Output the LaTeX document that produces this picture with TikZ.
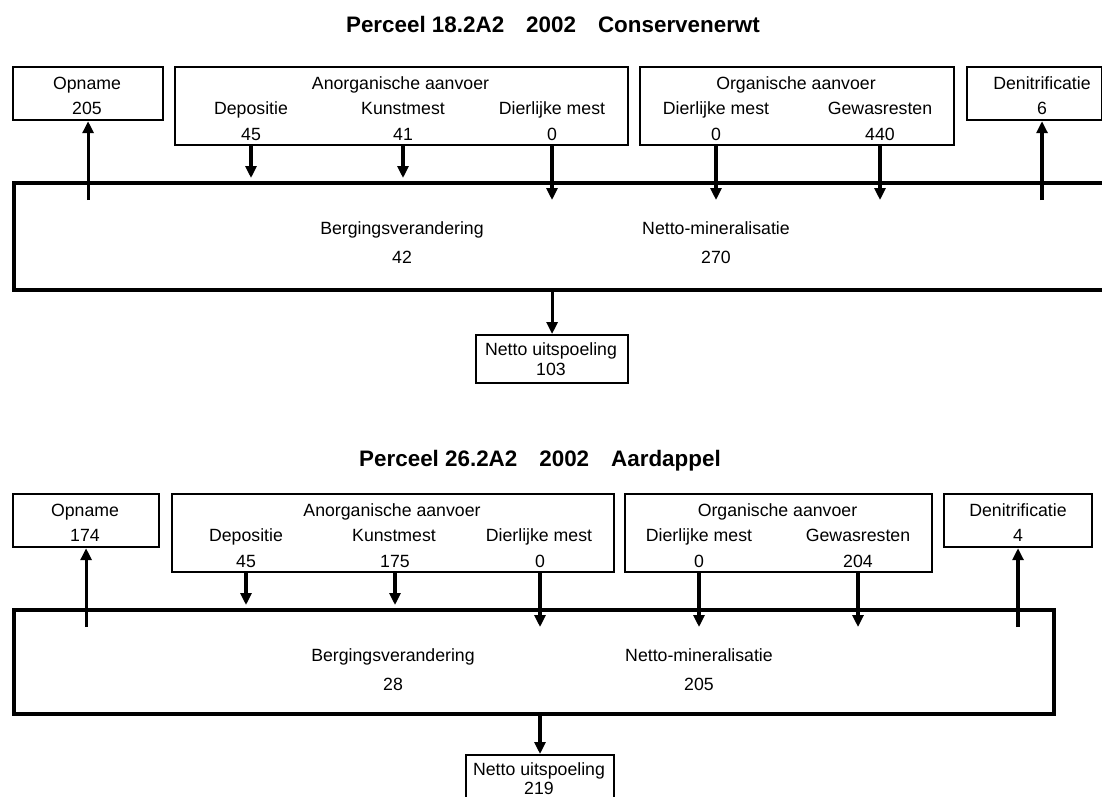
\documentclass[tikz,border=0pt]{standalone}
\usepackage{fontspec}
\setmainfont{Liberation Sans}
\usetikzlibrary{arrows.meta,calc}
\begin{document}
\begin{tikzpicture}[x=1pt,y=-1pt,
  box/.style={draw, line width=2.2pt, inner sep=0pt, anchor=north west},
  mainbox/.style={draw, line width=4pt, inner sep=0pt, anchor=north west},
  lbl/.style={inner sep=0pt, anchor=base, font=\fontsize{17.7}{20}\selectfont},
  ttl/.style={inner sep=0pt, anchor=base, font=\fontsize{22.4}{26}\selectfont\bfseries},
  flow/.style={line width=3.1pt, -{Triangle[width=11pt,length=12pt]}},
]
\useasboundingbox (0,0) rectangle (1102,796);
\clip (0,0) rectangle (1102,796);

% ---------------- top diagram ----------------
\node[ttl] (title1) at (553,32) {Perceel 18.2A2\hspace{22pt}2002\hspace{22pt}Conservenerwt};

\node[box, minimum width=150pt, minimum height=53pt] (op1) at (12,66) {};
\node[lbl] (op1a) at (87,89) {Opname};
\node[lbl] (op1v) at (87,114) {205};

\node[box, minimum width=453pt, minimum height=78pt] (an1) at (174,66) {};
\node[lbl] (an1a) at (400.5,89) {Anorganische aanvoer};
\node[lbl] (an1d) at (251,114) {Depositie};
\node[lbl] (an1k) at (403,114) {Kunstmest};
\node[lbl] (an1m) at (552,114) {Dierlijke mest};
\node[lbl] (an1dv) at (251,140) {45};
\node[lbl] (an1kv) at (403,140) {41};
\node[lbl] (an1mv) at (552,140) {0};

\node[box, minimum width=314pt, minimum height=78pt] (or1) at (639,66) {};
\node[lbl] (or1a) at (796,89) {Organische aanvoer};
\node[lbl] (or1m) at (716,114) {Dierlijke mest};
\node[lbl] (or1g) at (880,114) {Gewasresten};
\node[lbl] (or1mv) at (716,140) {0};
\node[lbl] (or1gv) at (880,140) {440};

\node[box, minimum width=135pt, minimum height=53pt] (de1) at (966,66) {};
\node[lbl] (de1a) at (1042,89) {Denitrificatie};
\node[lbl] (de1v) at (1042,114) {6};

\node[mainbox, minimum width=1110pt, minimum height=107pt] (m1) at (12,181) {};
\node[lbl] (m1a) at (402,234) {Bergingsverandering};
\node[lbl] (m1av) at (402,263) {42};
\node[lbl] (m1b) at (716,234) {Netto-mineralisatie};
\node[lbl] (m1bv) at (716,263) {270};

\node[box, minimum width=152pt, minimum height=48pt] (nb1) at (475,334) {};
\node[lbl] (nb1a) at (551,355) {Netto uitspoeling};
\node[lbl] (nb1v) at (551,375) {103};

\draw[flow] ($(m1.north -| op1.south)+(0,19)$) -- (op1.south);
\draw[flow] (an1.south -| an1dv) -- ($(m1.north -| an1dv)+(0,-3)$);
\draw[flow] (an1.south -| an1kv) -- ($(m1.north -| an1kv)+(0,-3)$);
\draw[flow] (an1.south -| an1mv) -- ($(m1.north -| an1mv)+(0,19)$);
\draw[flow] (or1.south -| or1mv) -- ($(m1.north -| or1mv)+(0,19)$);
\draw[flow] (or1.south -| or1gv) -- ($(m1.north -| or1gv)+(0,19)$);
\draw[flow] ($(m1.north -| de1v)+(0,19)$) -- (de1.south -| de1v);
\draw[flow] (m1.south -| nb1.north) -- (nb1.north);

% ---------------- bottom diagram ----------------
\node[ttl] (title2) at (540,466) {Perceel 26.2A2\hspace{22pt}2002\hspace{22pt}Aardappel};

\node[box, minimum width=146pt, minimum height=53pt] (op2) at (12,493) {};
\node[lbl] (op2a) at (85,516) {Opname};
\node[lbl] (op2v) at (85,541) {174};

\node[box, minimum width=442pt, minimum height=78pt] (an2) at (171,493) {};
\node[lbl] (an2a) at (392,516) {Anorganische aanvoer};
\node[lbl] (an2d) at (246,541) {Depositie};
\node[lbl] (an2k) at (394,541) {Kunstmest};
\node[lbl] (an2m) at (539,541) {Dierlijke mest};
\node[lbl] (an2dv) at (246,567) {45};
\node[lbl] (an2kv) at (395,567) {175};
\node[lbl] (an2mv) at (540,567) {0};

\node[box, minimum width=307pt, minimum height=78pt] (or2) at (624,493) {};
\node[lbl] (or2a) at (777.5,516) {Organische aanvoer};
\node[lbl] (or2m) at (699,541) {Dierlijke mest};
\node[lbl] (or2g) at (858,541) {Gewasresten};
\node[lbl] (or2mv) at (699,567) {0};
\node[lbl] (or2gv) at (858,567) {204};

\node[box, minimum width=148pt, minimum height=53pt] (de2) at (943,493) {};
\node[lbl] (de2a) at (1018,516) {Denitrificatie};
\node[lbl] (de2v) at (1018,541) {4};

\node[mainbox, minimum width=1040pt, minimum height=104pt] (m2) at (12,608) {};
\node[lbl] (m2a) at (393,661) {Bergingsverandering};
\node[lbl] (m2av) at (393,690) {28};
\node[lbl] (m2b) at (699,661) {Netto-mineralisatie};
\node[lbl] (m2bv) at (699,690) {205};

\node[box, minimum width=148pt, minimum height=50pt] (nb2) at (465,754) {};
\node[lbl] (nb2a) at (539,775.5) {Netto uitspoeling};
\node[lbl] (nb2v) at (539,794.5) {219};

\draw[flow] ($(m2.north -| op2.south)+(0,19)$) -- (op2.south);
\draw[flow] (an2.south -| an2dv) -- ($(m2.north -| an2dv)+(0,-3)$);
\draw[flow] (an2.south -| an2kv) -- ($(m2.north -| an2kv)+(0,-3)$);
\draw[flow] (an2.south -| an2mv) -- ($(m2.north -| an2mv)+(0,19)$);
\draw[flow] (or2.south -| or2mv) -- ($(m2.north -| or2mv)+(0,19)$);
\draw[flow] (or2.south -| or2gv) -- ($(m2.north -| or2gv)+(0,19)$);
\draw[flow] ($(m2.north -| de2v)+(0,19)$) -- (de2.south -| de2v);
\draw[flow] (m2.south -| an2mv) -- (nb2.north -| an2mv);
\end{tikzpicture}
\end{document}
